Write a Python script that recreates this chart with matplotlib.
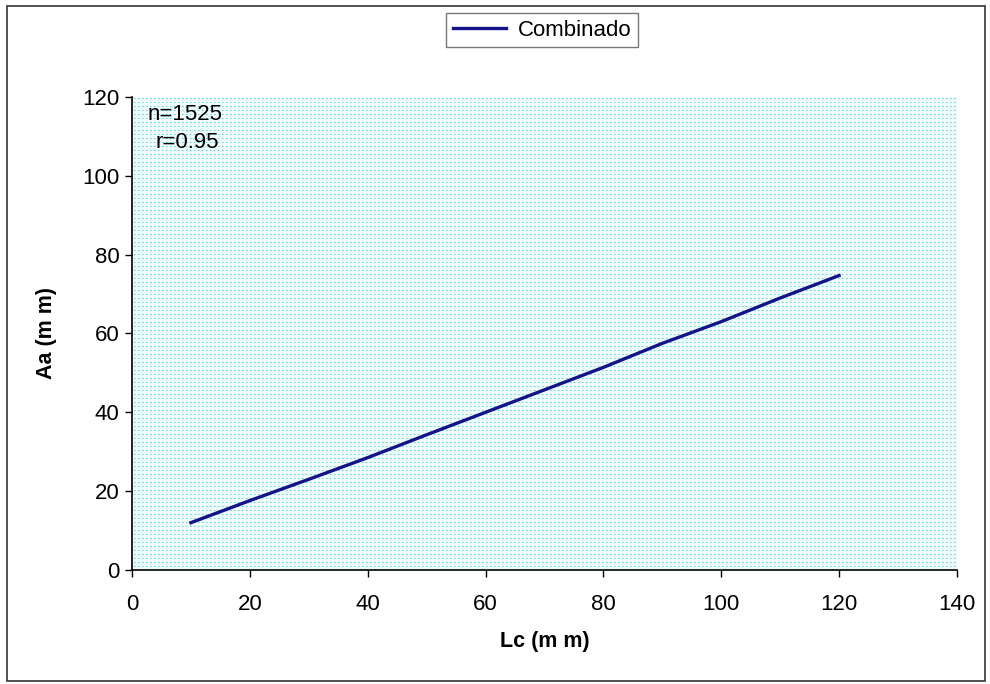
import numpy as np
import matplotlib.pyplot as plt
from matplotlib.patches import Rectangle

plt.rcParams['font.family'] = ['Liberation Sans', 'DejaVu Sans']

# ============================================
# DATA
# ============================================
lc = [10, 20, 30, 40, 50, 60, 70, 80, 90, 100, 110, 120]
aa = [12.0, 17.6, 23.0, 28.5, 34.3, 40.0, 45.7, 51.4, 57.5, 63.0, 69.0, 74.7]

x_ticks = [0, 20, 40, 60, 80, 100, 120, 140]
y_ticks = [0, 20, 40, 60, 80, 100, 120]

# ============================================
# FIGURE
# ============================================
fig = plt.figure(figsize=(9.9, 6.84), dpi=100)
ax = fig.add_axes([0.1333, 0.1667, 0.8333, 0.6915])
ax.patch.set_alpha(0)
ax.set_zorder(2)

# dotted cyan plot-area fill, placed pixel by pixel
h, w = 473, 824
tex = np.ones((h, w, 3))
tex[:, :] = [0.94, 0.985, 0.985]
tex[1::4, 1::4] = [0.40, 0.80, 0.80]
tex[1::4, 2::4] = [0.70, 0.90, 0.90]
fig.figimage(tex, xo=133, yo=114, zorder=-1)

ax.plot(lc, aa, color='#14148a', linewidth=2.4, label='Combinado', zorder=3)

ax.set_xlim(0, 140)
ax.set_ylim(0, 120)
ax.set_xticks(x_ticks)
ax.set_yticks(y_ticks)
ax.tick_params(direction='out', length=5, width=1, labelsize=16)
ax.tick_params(axis='x', pad=12)
ax.tick_params(axis='y', pad=4)

for s in ['top', 'right']:
    ax.spines[s].set_visible(False)
for s in ['left', 'bottom']:
    ax.spines[s].set_linewidth(1.2)

ax.set_xlabel('Lc (m m)', fontsize=15.5, fontweight='bold', labelpad=12)
ax.set_ylabel('Aa (m m)', fontsize=15.5, fontweight='bold', labelpad=18)

ax.text(0.019, 0.986, 'n=1525', transform=ax.transAxes, fontsize=16,
        ha='left', va='top')
ax.text(0.028, 0.927, 'r=0.95', transform=ax.transAxes, fontsize=16,
        ha='left', va='top')

leg = fig.legend(loc='center', bbox_to_anchor=(0.5475, 0.956), fontsize=16,
                 frameon=True, fancybox=False, handlelength=2.4,
                 borderpad=0.3, handletextpad=0.5, edgecolor='#555555')
leg.get_frame().set_linewidth(1)

# chart-area border
fig.patches.append(Rectangle((0.007, 0.004), 0.988, 0.987, transform=fig.transFigure,
                             fill=False, edgecolor='#333333', linewidth=1.2))

fig.savefig('out.png', dpi=100)
